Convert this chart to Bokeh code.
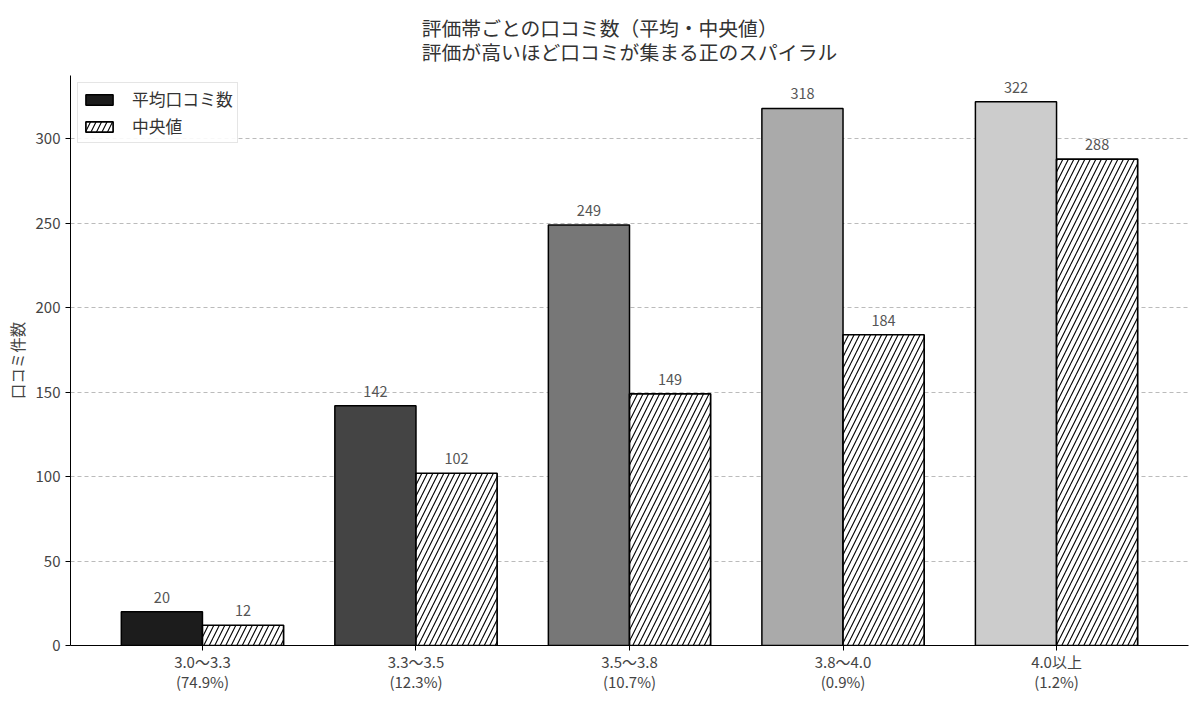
from bokeh.plotting import figure
from bokeh.models import ColumnDataSource, Range1d, FixedTicker, Title, Legend, LegendItem
from bokeh.embed import file_html
from bokeh.resources import INLINE
from bokeh.core.properties import value
from bokeh.transform import dodge

categories = ["3.0～3.3", "3.3～3.5", "3.5～3.8", "3.8～4.0", "4.0以上"]
shares = ["(74.9%)", "(12.3%)", "(10.7%)", "(0.9%)", "(1.2%)"]
mean_reviews = [20, 142, 249, 318, 322]
median_reviews = [12, 102, 149, 184, 288]
mean_colors = ["#1c1c1c", "#444444", "#777777", "#aaaaaa", "#cccccc"]
title_lines = ["評価帯ごとの口コミ数（平均・中央値）", "評価が高いほど口コミが集まる正のスパイラル"]

FONT = "Noto Sans CJK JP"
idx = list(range(len(categories)))
src = ColumnDataSource(dict(
    x=idx, mean=mean_reviews, median=median_reviews, color=mean_colors,
    mean_lbl=[str(v) for v in mean_reviews], median_lbl=[str(v) for v in median_reviews],
))

p = figure(width=1192, height=694, output_backend="svg", toolbar_location=None,
           x_range=Range1d(-0.618, 4.618), y_range=Range1d(0, 337.5),
           min_border_left=70, min_border_right=4, min_border_top=75, min_border_bottom=48)

p.title = Title(text="\n".join(title_lines), align="center", standoff=14,
                vertical_align="top",
                text_font=FONT, text_font_size="19.8px", text_font_style="normal",
                text_color="#333333", text_line_height=0.85)

w = 0.38
r_mean = p.vbar(x=dodge("x", -w / 2, range=p.x_range), top="mean", width=w, source=src,
                fill_color="color", line_color="black", line_width=1.5)
r_med = p.vbar(x=dodge("x", w / 2, range=p.x_range), top="median", width=w, source=src,
               fill_color="white", line_color="black", line_width=1.7,
               hatch_pattern="/", hatch_color="black", hatch_scale=11, hatch_weight=1.1)

p.text(x=dodge("x", -w / 2, range=p.x_range), y="mean", text="mean_lbl", source=src,
       text_align="center", text_baseline="bottom", y_offset=-9,
       text_font=value(FONT), text_font_size="14.5px", text_color="#555555")
p.text(x=dodge("x", w / 2, range=p.x_range), y="median", text="median_lbl", source=src,
       text_align="center", text_baseline="bottom", y_offset=-9,
       text_font=value(FONT), text_font_size="14.5px", text_color="#555555")

legend = Legend(items=[LegendItem(label="平均口コミ数", renderers=[r_mean], index=0),
                       LegendItem(label="中央値", renderers=[r_med], index=0)],
                location="top_left", margin=7, padding=4, spacing=3,
                glyph_width=34, glyph_height=13, label_standoff=16,
                label_text_font=FONT, label_text_font_size="16.8px", label_text_color="#333333",
                border_line_color="#cccccc", border_line_width=1, background_fill_alpha=0.9)
p.add_layout(legend)

p.xaxis.ticker = FixedTicker(ticks=idx)
p.xaxis.major_label_overrides = {i: f"{c}\n{s}" for i, c, s in zip(idx, categories, shares)}
p.yaxis.ticker = FixedTicker(ticks=[0, 50, 100, 150, 200, 250, 300])
p.yaxis.axis_label = "口コミ件数"
p.yaxis.axis_label_text_font = FONT
p.yaxis.axis_label_text_font_size = "15.5px"
p.yaxis.axis_label_text_font_style = "normal"
p.yaxis.axis_label_text_color = "#444444"
for ax in (p.xaxis, p.yaxis):
    ax.major_label_text_font = FONT
    ax.major_label_text_font_size = "15px"
    ax.major_label_text_color = "#444444"
    ax.axis_line_color = "black"
    ax.major_tick_line_color = "black"
    ax.major_tick_out = 5
    ax.major_tick_in = 0
    ax.minor_tick_line_color = None
p.xaxis.major_label_standoff = 0
p.xaxis.major_label_text_line_height = 0.96
p.xgrid.grid_line_color = None
p.ygrid.grid_line_color = "#bbbbbb"
p.ygrid.grid_line_dash = "4 3"
p.ygrid.grid_line_width = 1
p.outline_line_color = None

open("out.html", "w").write(file_html(p, INLINE))
